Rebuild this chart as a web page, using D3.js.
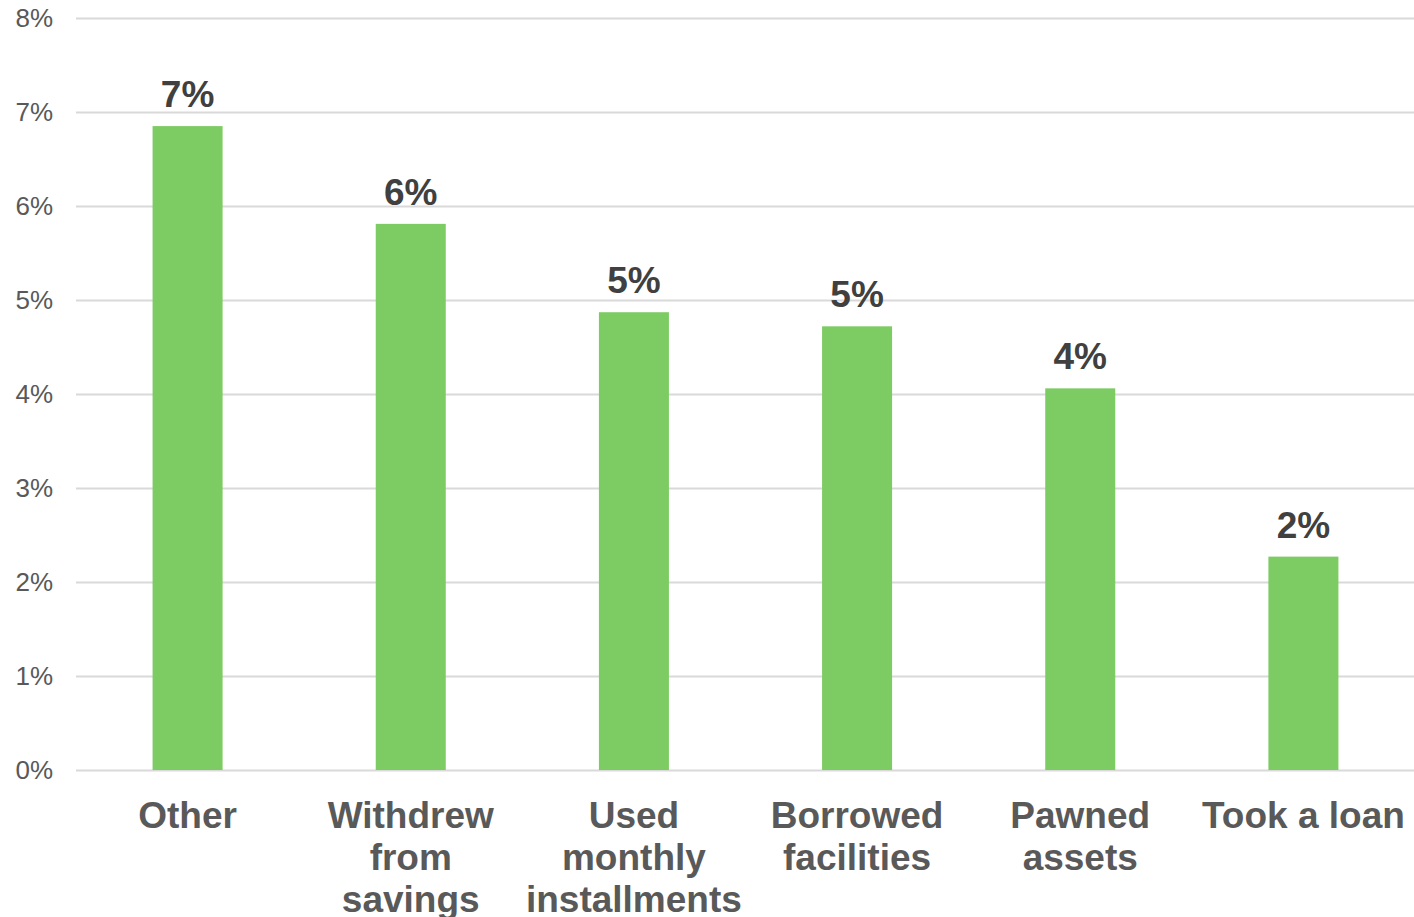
<!DOCTYPE html>
<html><head><meta charset="utf-8">
<script src="https://cdn.jsdelivr.net/npm/d3@7"></script>
<style>html,body{margin:0;padding:0;background:#fff;}svg{display:block;}</style>
</head><body>
<svg id="chart" width="1414" height="917"></svg>
<script>
const categories = ["Other", "Withdrew from savings", "Used monthly installments", "Borrowed facilities", "Pawned assets", "Took a loan"];
const categoryLines = [["Other"], ["Withdrew", "from", "savings"], ["Used", "monthly", "installments"], ["Borrowed", "facilities"], ["Pawned", "assets"], ["Took a loan"]];
const values = [0.0685, 0.0581, 0.0487, 0.0472, 0.0406, 0.0227];
const yTicks = [0, 0.01, 0.02, 0.03, 0.04, 0.05, 0.06, 0.07, 0.08];

const svg = d3.select("#chart");
const font = "'Liberation Sans', Arial, sans-serif";
const x = d3.scaleBand().domain(categories).range([76, 1415]).paddingInner(0.6863).paddingOuter(0.6863 / 2);
const y = d3.scaleLinear().domain([0, 0.08]).range([770, 18]);

// gridlines
svg.append("g").selectAll("line").data(yTicks).join("line")
  .attr("x1", 76).attr("x2", 1414)
  .attr("y1", d => Math.round(y(d)) + 0.5).attr("y2", d => Math.round(y(d)) + 0.5)
  .attr("stroke", "#d9d9d9").attr("stroke-width", 2);

// y tick labels
const fmt = d3.format(".0%");
svg.append("g").selectAll("text").data(yTicks).join("text")
  .attr("x", 53).attr("y", d => y(d)).attr("dy", "0.35em")
  .attr("text-anchor", "end")
  .attr("font-family", font).attr("font-size", 26).attr("fill", "#595959")
  .text(d => fmt(d));

// bars
svg.append("g").selectAll("rect").data(values).join("rect")
  .attr("x", (d, i) => x(categories[i])).attr("width", x.bandwidth())
  .attr("y", d => y(d)).attr("height", d => y(0) - y(d))
  .attr("fill", "#7dcb63");

// value labels
svg.append("g").selectAll("text").data(values).join("text")
  .attr("x", (d, i) => x(categories[i]) + x.bandwidth() / 2)
  .attr("y", d => y(d) - 19)
  .attr("text-anchor", "middle")
  .attr("font-family", font).attr("font-size", 37).attr("font-weight", "bold").attr("fill", "#404040")
  .text(d => fmt(d));

// category labels
const cat = svg.append("g").selectAll("text").data(categories).join("text")
  .attr("x", d => x(d) + x.bandwidth() / 2)
  .attr("y", 828)
  .attr("text-anchor", "middle")
  .attr("font-family", font).attr("font-size", 37).attr("font-weight", "bold").attr("fill", "#595959");
cat.each(function(d, i) {
  const t = d3.select(this);
  const cx = x(d) + x.bandwidth() / 2;
  categoryLines[i].forEach((ln, j) => {
    t.append("tspan").attr("x", cx).attr("dy", j === 0 ? 0 : 42).text(ln);
  });
});
</script>
</body></html>
